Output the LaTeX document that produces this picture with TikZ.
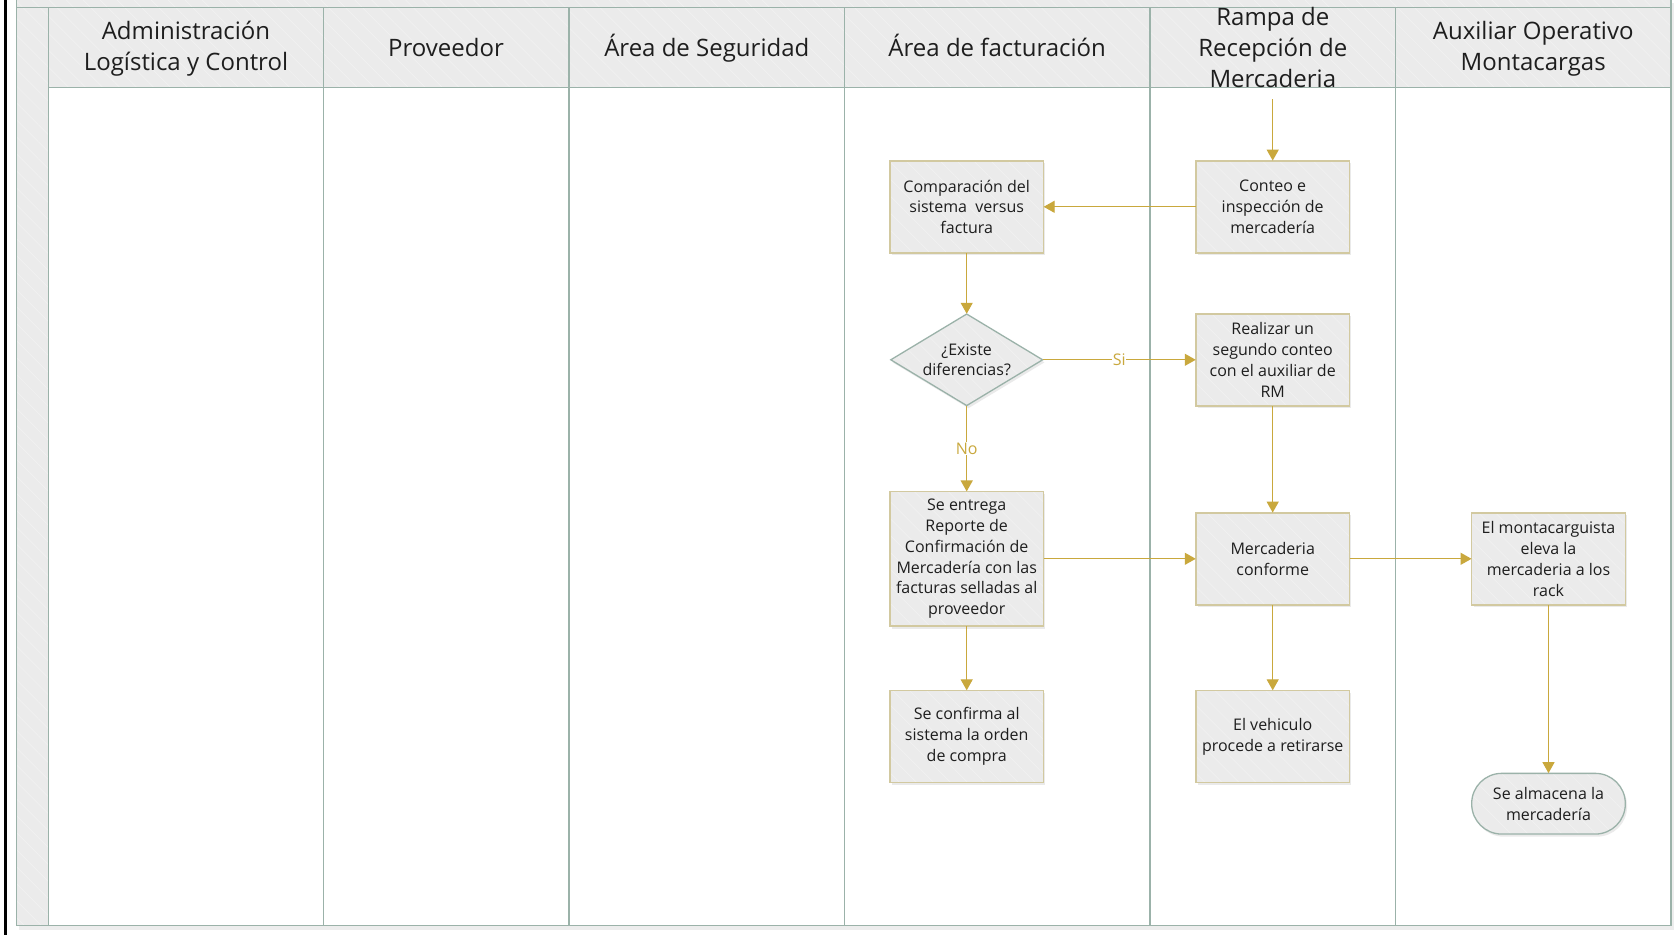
\documentclass[tikz,border=0pt]{standalone}
\usepackage{fontspec}
\setmainfont{Open Sans}
\usetikzlibrary{arrows.meta,shapes.geometric,shadows,patterns.meta}

\definecolor{laneline}{HTML}{9BB2A9}
\definecolor{cellfill}{HTML}{EBEBEB}
\definecolor{stripe}{HTML}{F1F1F1}
\definecolor{boxline}{HTML}{D2C9A0}
\definecolor{flow}{HTML}{C9A83D}
\definecolor{ink}{HTML}{1E1E1E}

\tikzset{
  hatch/.style={postaction={pattern={Lines[angle=-45,distance=12pt,line width=0.7pt]},pattern color=stripe}},
  lanestroke/.style={draw=laneline, line width=1.3pt},
  headtext/.style={font=\fontsize{24}{31}\selectfont, text=ink, align=center, inner sep=0pt},
  boxshadow/.style={drop shadow={opacity=0.16, shadow xshift=1.8pt, shadow yshift=-2.6pt}},
  boxtext/.style={align=center, font=\fontsize{16}{20.8}\selectfont, text=ink},
  procbox/.style={fill=cellfill, boxshadow, hatch, postaction={draw=boxline, line width=1.4pt},
    minimum width=153.5pt, minimum height=92pt, inner sep=0pt, boxtext},
  decbox/.style={shape=diamond, aspect=1.66, fill=cellfill, boxshadow, hatch,
    postaction={draw=laneline, line width=1.3pt},
    minimum width=152pt, minimum height=91.7pt, inner xsep=0pt, inner ysep=-8pt, boxtext},
  endbox/.style={rounded corners=30pt, fill=cellfill, boxshadow, hatch,
    postaction={draw=laneline, line width=1.3pt},
    minimum width=153.6pt, minimum height=60.7pt, inner sep=0pt, boxtext},
  flowline/.style={draw=flow, line width=1.3pt, -{Triangle[length=11pt,width=12pt]}},
  branchlbl/.style={fill=white, inner sep=0.5pt, text=flow, font=\fontsize{16}{18}\selectfont},
}

\begin{document}
\begin{tikzpicture}[x=1pt,y=-1pt]
  \useasboundingbox (0,0) rectangle (1674,935);
  \fill[white] (0,0) rectangle (1674,935);

  % soft shadow under the pool
  \fill[black, opacity=0.07] (19,3) rectangle (1674,930);

  % pool body
  \fill[white] (16.7,0) rectangle (1671,925.3);
  \fill[cellfill, hatch] (16.7,0) rectangle (1671,7.3);
  \fill[cellfill, hatch] (48.7,7.3) rectangle (1671,87.3);
  \fill[cellfill, hatch] (16.7,7.3) rectangle (48.7,925.3);

  % pool frame and lane dividers
  \draw[lanestroke] (16.7,0) -- (16.7,925.3) -- (1671,925.3) -- (1671,0);
  \draw[lanestroke] (16.7,7.3) -- (1671,7.3);
  \draw[lanestroke] (48.7,87.3) -- (1671,87.3);
  \foreach \lx in {48.7,323.5,569,844.5,1150,1395.5}
    \draw[lanestroke] (\lx,7.3) -- (\lx,925.3);

  % page edge on the left
  \draw[black, line width=2.7pt] (5.3,0) -- (5.3,935);

  % lane headings
  \node[headtext] (h1) at (186,48.8) {Administración\\Logística y Control};
  \node[headtext, anchor=base] (h2) at (446,56) {Proveedor};
  \node[headtext, anchor=base] (h3) at (706.8,56) {Área de Seguridad};
  \node[headtext, anchor=base] (h4) at (997.2,56) {Área de facturación};
  \node[headtext] (h5) at (1272.8,47) {Rampa de\\Recepción de\\Mercaderia};
  \node[headtext] (h6) at (1533.2,48.8) {Auxiliar Operativo\\Montacargas};

  % process steps
  \coordinate (start) at (1272.7,99);
  \node[procbox] (conteo) at (1272.7,206.8) {Conteo e\\inspección de\\mercadería};
  \node[procbox] (comp) at (966.7,206.8) {Comparación del\\sistema\ \ versus\\factura};
  \node[decbox] (dec) at (966.7,359.8) {¿Existe\\diferencias?};
  \node[procbox] (segundo) at (1272.7,359.8) {Realizar un\\segundo conteo\\con el auxiliar de\\RM};
  \node[procbox, minimum height=134.3pt] (entrega) at (966.7,558.8) {Se entrega\\Reporte de\\Confirmación de\\Mercadería con las\\facturas selladas al\\proveedor};
  \node[procbox] (conforme) at (1272.7,558.8) {Mercaderia\\conforme};
  \node[procbox] (monta) at (1548.5,558.8) {El montacarguista\\eleva la\\mercaderia a los\\rack};
  \node[procbox] (confirma) at (966.7,736.5) {Se confirma al\\sistema la orden\\de compra};
  \node[procbox] (vehiculo) at (1272.7,736.5) {El vehiculo\\procede a retirarse};
  \node[endbox] (almacena) at (1548.5,803.7) {Se almacena la\\mercadería};

  % connectors
  \draw[flowline] (start) -- (conteo);
  \draw[flowline] (conteo) -- (comp);
  \draw[flowline] (comp) -- (dec);
  \draw[flowline] (dec) -- node[branchlbl] {Si} (segundo);
  \draw[flowline] (dec) -- node[branchlbl] {No} (entrega);
  \draw[flowline] (segundo) -- (conforme);
  \draw[flowline] (entrega) -- (conforme);
  \draw[flowline] (entrega) -- (confirma);
  \draw[flowline] (conforme) -- (vehiculo);
  \draw[flowline] (conforme) -- (monta);
  \draw[flowline] (monta) -- (almacena);
\end{tikzpicture}
\end{document}
